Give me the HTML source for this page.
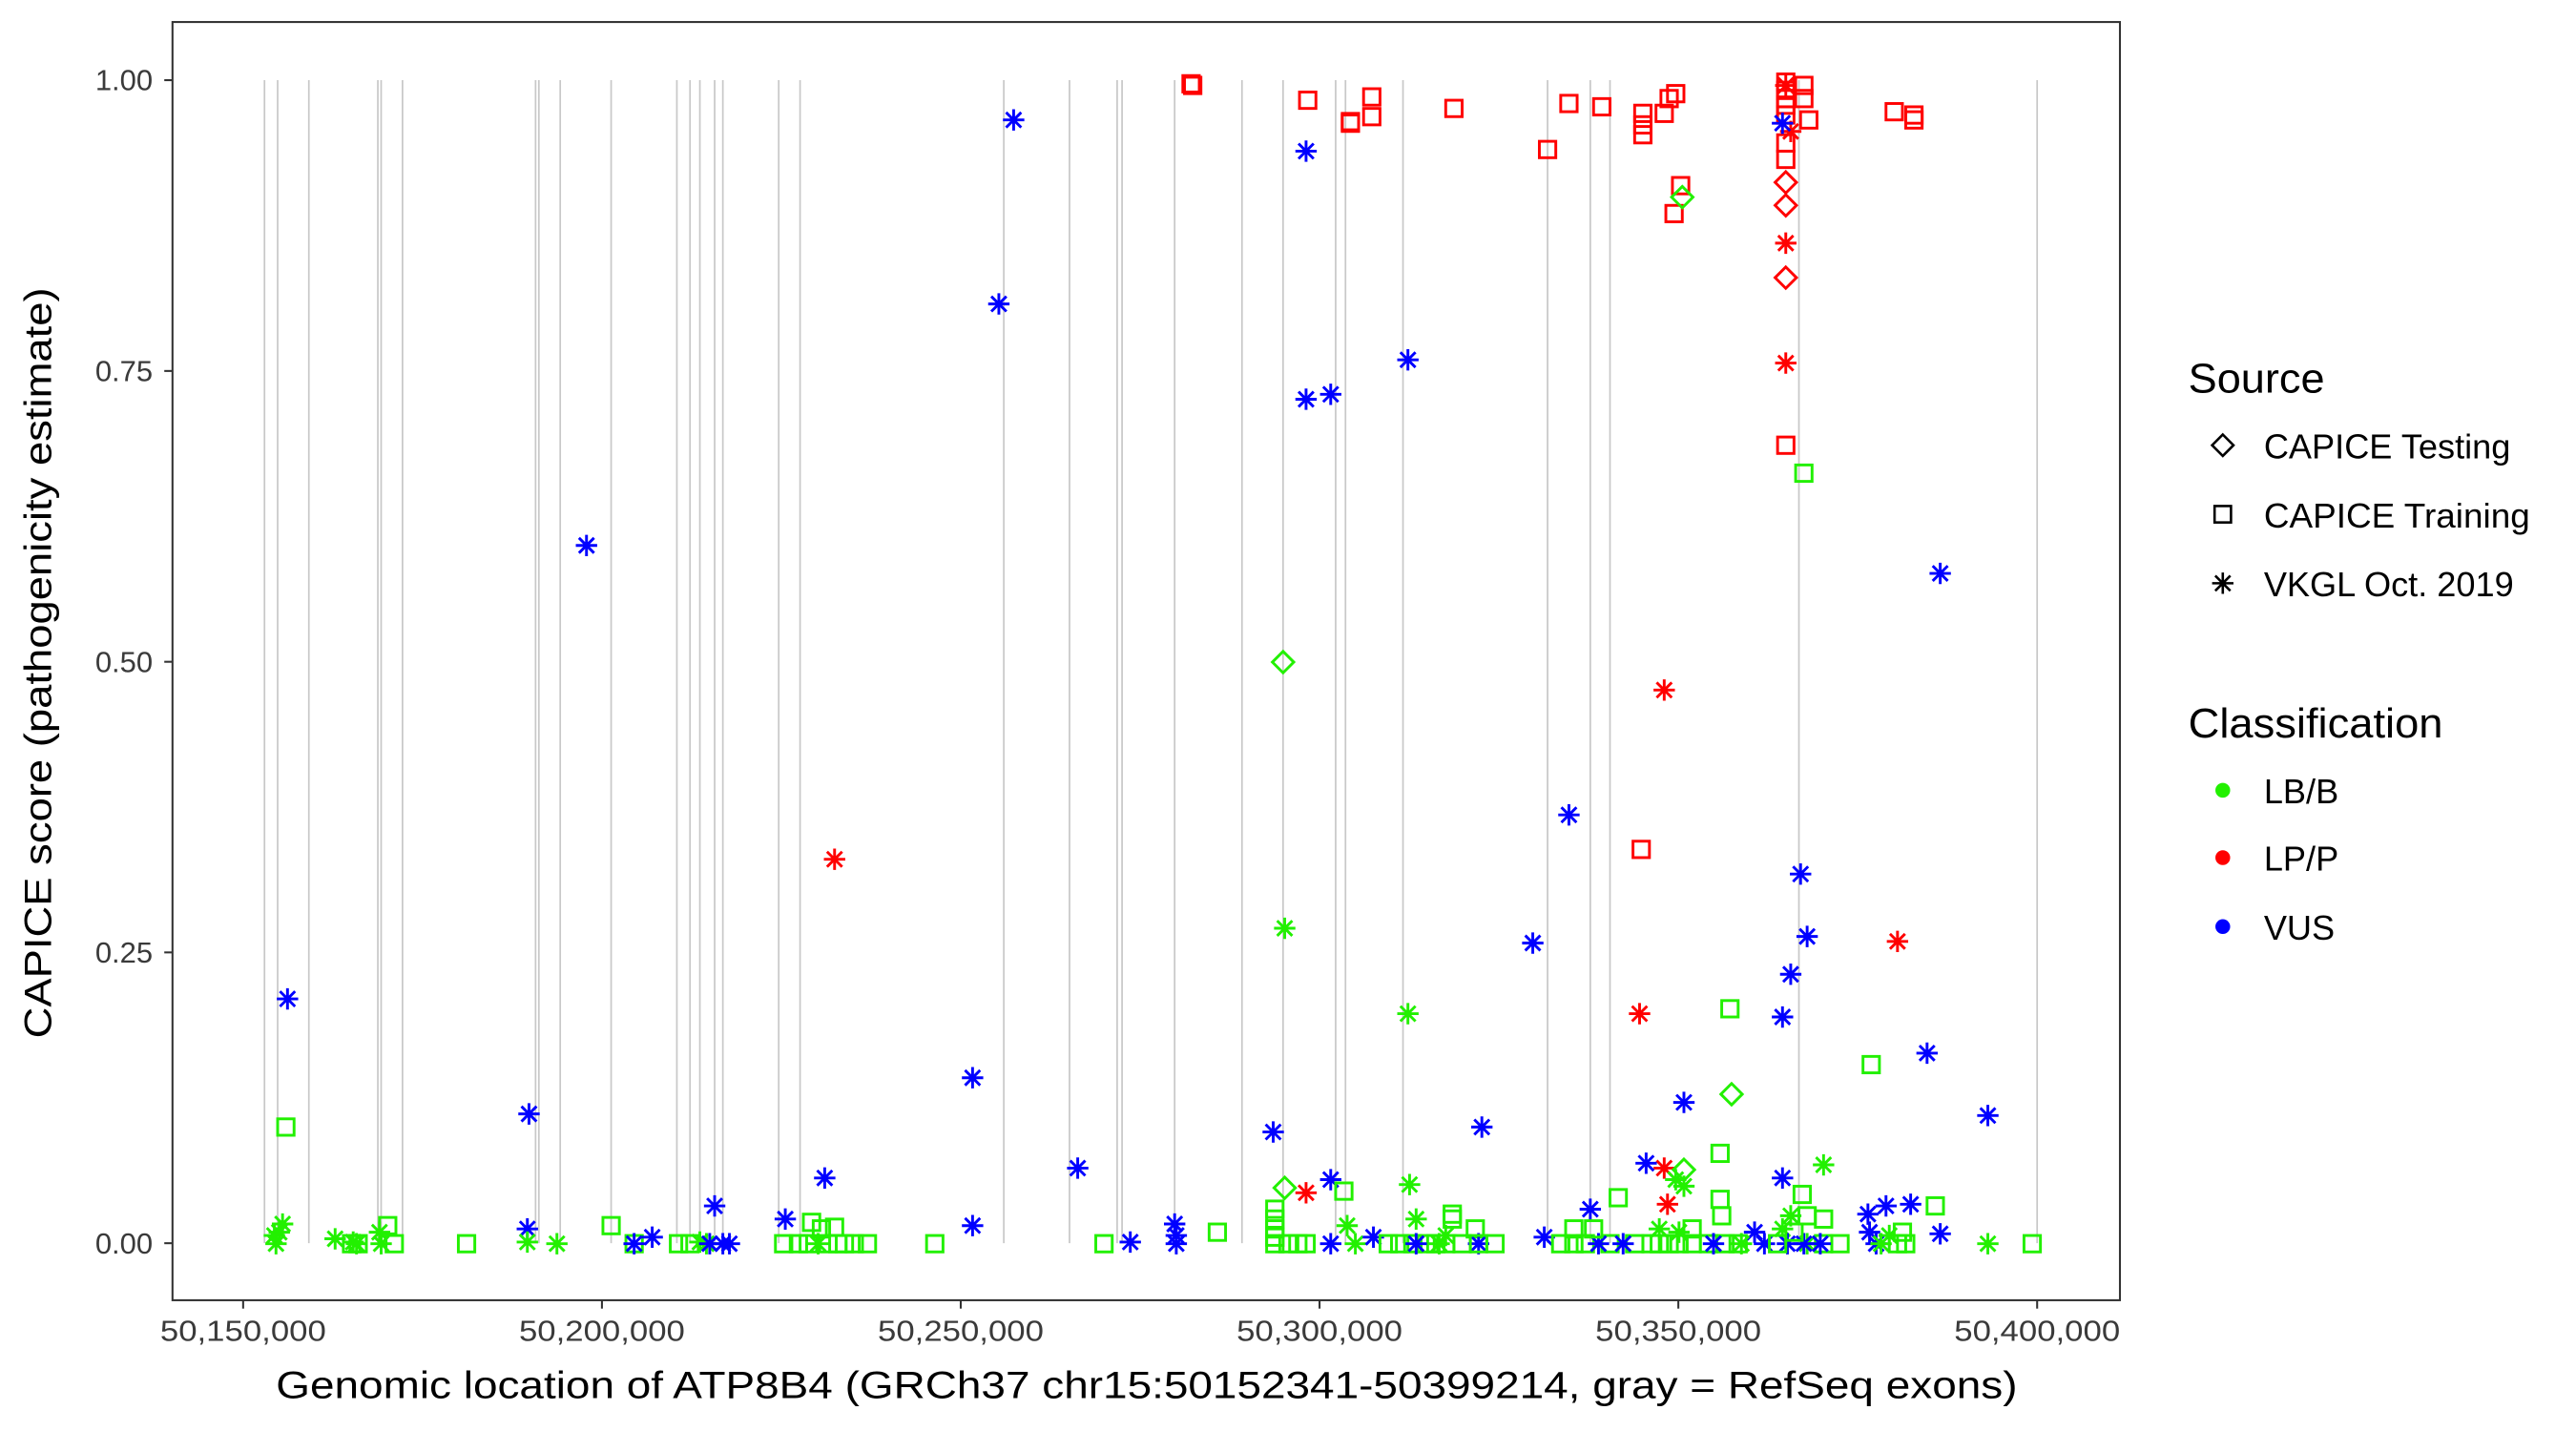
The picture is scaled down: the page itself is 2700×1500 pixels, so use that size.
<!DOCTYPE html>
<html><head><meta charset="utf-8"><style>
html,body{margin:0;padding:0;background:#fff;}
svg{display:block;}
text{font-family:"Liberation Sans",Arial,sans-serif;}
</style></head><body>
<svg id="s" width="2700" height="1500" viewBox="0 0 1568 871" preserveAspectRatio="none" xmlns="http://www.w3.org/2000/svg">
<rect x="0" y="0" width="1568" height="871" fill="#fff"/>
<g id="exons" stroke="#c8c8c8" stroke-width="1"></g>
<g id="pts" fill="none" stroke-width="1.7"></g>
<rect x="105" y="13.4" width="1185.4" height="778" fill="none" stroke="#333" stroke-width="1.2"/>
<g stroke="#333" stroke-width="1.2">
<line x1="100" y1="48.8" x2="105" y2="48.8"/><line x1="100" y1="225.8" x2="105" y2="225.8"/>
<line x1="100" y1="402.8" x2="105" y2="402.8"/><line x1="100" y1="579.7" x2="105" y2="579.7"/>
<line x1="100" y1="756.7" x2="105" y2="756.7"/>
<line x1="148" y1="791.5" x2="148" y2="796.5"/><line x1="366.4" y1="791.5" x2="366.4" y2="796.5"/>
<line x1="584.8" y1="791.5" x2="584.8" y2="796.5"/><line x1="803.2" y1="791.5" x2="803.2" y2="796.5"/>
<line x1="1021.6" y1="791.5" x2="1021.6" y2="796.5"/><line x1="1240" y1="791.5" x2="1240" y2="796.5"/>
</g>
<g fill="#3a3a3a" font-size="18" text-anchor="end">
<text x="93" y="55">1.00</text><text x="93" y="232">0.75</text><text x="93" y="409">0.50</text>
<text x="93" y="586">0.25</text><text x="93" y="763">0.00</text>
</g>
<g fill="#3a3a3a" font-size="18">
<text x="97.5" y="816" textLength="101" lengthAdjust="spacingAndGlyphs">50,150,000</text>
<text x="315.9" y="816" textLength="101" lengthAdjust="spacingAndGlyphs">50,200,000</text>
<text x="534.3" y="816" textLength="101" lengthAdjust="spacingAndGlyphs">50,250,000</text>
<text x="752.7" y="816" textLength="101" lengthAdjust="spacingAndGlyphs">50,300,000</text>
<text x="971.1" y="816" textLength="101" lengthAdjust="spacingAndGlyphs">50,350,000</text>
<text x="1189.5" y="816" textLength="101" lengthAdjust="spacingAndGlyphs">50,400,000</text>
</g>
<text x="168" y="851" font-size="23" fill="#000" textLength="1060" lengthAdjust="spacingAndGlyphs">Genomic location of ATP8B4 (GRCh37 chr15:50152341-50399214, gray = RefSeq exons)</text>
<text transform="translate(31,632) rotate(-90)" font-size="23" fill="#000" textLength="457" lengthAdjust="spacingAndGlyphs">CAPICE score (pathogenicity estimate)</text>
<g font-size="25.5" fill="#000"><text x="1332" y="239" textLength="83" lengthAdjust="spacingAndGlyphs">Source</text><text x="1332" y="449" textLength="155" lengthAdjust="spacingAndGlyphs">Classification</text></g>
<g font-size="21" fill="#000">
<text x="1378" y="279">CAPICE Testing</text><text x="1378" y="321" textLength="162" lengthAdjust="spacingAndGlyphs">CAPICE Training</text><text x="1378" y="363">VKGL Oct. 2019</text>
<text x="1378" y="489">LB/B</text><text x="1378" y="530">LP/P</text><text x="1378" y="572">VUS</text>
</g>
<g id="leg" fill="none" stroke="#000" stroke-width="1.5"></g>
<circle cx="1353" cy="481" r="4.5" fill="#22f000"/>
<circle cx="1353" cy="522" r="4.5" fill="#ff0000"/>
<circle cx="1353" cy="564" r="4.5" fill="#0000ff"/>
</svg>
<script>
var NS="http://www.w3.org/2000/svg";
var ex=[161,169,188,230,232,245,326,328,341,372,412,420,426,435,440,474,487,611,651,680,683,715,756,781,813,819,854,942,968,980,1095,1240];
var eg=document.getElementById('exons');
ex.forEach(function(x){var l=document.createElementNS(NS,'line');l.setAttribute('x1',x);l.setAttribute('x2',x);l.setAttribute('y1',48.8);l.setAttribute('y2',756.7);eg.appendChild(l);});
function mk(g,x,y,t,c){
 var e;
 if(t=='s'){e=document.createElementNS(NS,'rect');e.setAttribute('x',x-5);e.setAttribute('y',y-5);e.setAttribute('width',10);e.setAttribute('height',10);}
 else if(t=='d'){e=document.createElementNS(NS,'polygon');e.setAttribute('points',(x)+','+(y-6.5)+' '+(x+6.5)+','+y+' '+x+','+(y+6.5)+' '+(x-6.5)+','+y);}
 else {e=document.createElementNS(NS,'path');var r=6.5,q=4.6;e.setAttribute('d','M'+(x-r)+' '+y+'H'+(x+r)+'M'+x+' '+(y-r)+'V'+(y+r)+'M'+(x-q)+' '+(y-q)+'L'+(x+q)+' '+(y+q)+'M'+(x-q)+' '+(y+q)+'L'+(x+q)+' '+(y-q));}
 e.setAttribute('stroke',c);g.appendChild(e);
}
var G='#22f000',R='#ff0000',B='#0000ff';
var P=[
[168,757,'a',G],[170,750,'a',G],[172,745,'a',G],[167,752,'a',G],[174,686,'s',G],[175,608,'a',B],
[204,754,'a',G],[215,756,'a',G],[217,757,'a',G],[214,757,'s',G],[218,757,'s',G],[231,750,'a',G],[232,757,'a',G],[236,746,'s',G],[240,757,'s',G],
[284,757,'s',G],[321,748,'a',B],[321,756,'a',G],[322,678,'a',B],[339,757,'a',G],[357,332,'a',B],
[372,746,'s',G],[386,757,'s',G],[386,757,'a',B],[397,753,'a',B],[413,757,'s',G],[420,757,'s',G],[426,756,'a',G],[430,757,'a',G],[435,734,'a',B],[432,757,'a',B],[440,757,'a',B],[444,757,'a',B],
[478,742,'a',B],[477,757,'s',G],[494,744,'s',G],[500,748,'s',G],[486,757,'s',G],[492,757,'s',G],[498,757,'a',G],[504,757,'s',G],[510,757,'s',G],[514,757,'s',G],[502,717,'a',B],[508,523,'a',R],[508,747,'s',G],[520,757,'s',G],[528,757,'s',G],
[569,757,'s',G],[592,746,'a',B],[592,656,'a',B],[608,185,'a',B],[617,73,'a',B],[656,711,'a',B],[672,757,'s',G],[688,756,'a',B],
[715,745,'a',B],[716,752,'a',B],[716,757,'a',B],[741,750,'s',G],[726,52,'s',R],[725,51,'s',R],
[776,736,'s',G],[776,742,'s',G],[776,748,'s',G],[776,753,'s',G],[776,757,'s',G],[784,757,'s',G],[790,757,'s',G],[795,757,'s',G],[781,403,'d',G],[782,723,'d',G],[782,565,'a',G],[775,689,'a',B],[795,92,'a',B],[796,61,'s',R],[795,726,'a',R],[795,243,'a',B],[810,240,'a',B],[810,718,'a',B],[810,757,'a',B],[818,725,'s',G],[820,746,'a',G],[825,757,'a',G],[822,74,'s',R],[822,75,'s',R],[835,59,'s',R],[835,71,'s',R],[836,753,'a',B],
[845,757,'s',G],[852,757,'s',G],[860,757,'s',G],[868,757,'s',G],[874,757,'s',G],[880,757,'s',G],[890,757,'s',G],[857,617,'a',G],[858,721,'a',G],[862,742,'a',G],[857,219,'a',B],[862,757,'a',B],[885,66,'s',R],[884,739,'s',G],[884,742,'s',G],[898,748,'s',G],[902,686,'a',B],[900,757,'a',B],[900,757,'s',G],[910,757,'s',G],[876,757,'a',G],[880,752,'a',G],
[933,574,'a',B],[942,91,'s',R],[940,753,'a',B],[950,757,'s',G],[958,757,'s',G],[965,757,'s',G],[980,757,'s',G],[995,757,'s',G],[955,63,'s',R],[975,65,'s',R],[955,496,'a',B],[968,736,'a',B],[973,757,'a',B],[988,757,'a',B],[958,748,'s',G],[970,748,'s',G],[985,729,'s',G],
[999,517,'s',R],[1000,82,'s',R],[1000,76,'s',R],[1000,69,'s',R],[1013,69,'s',R],[1016,60,'s',R],[1020,57,'s',R],[1023,113,'s',R],[1019,130,'s',R],[998,617,'a',R],[1013,420,'a',R],[1013,711,'a',R],[1015,733,'a',R],[1002,708,'a',B],[1025,671,'a',B],[1025,712,'d',G],[1024,120,'d',G],[1020,718,'a',G],[1025,722,'a',G],[1022,750,'a',G],
[1005,757,'s',G],[1010,757,'s',G],[1016,757,'s',G],[1022,757,'s',G],[1030,757,'s',G],[1040,757,'s',G],[1050,757,'s',G],[1058,757,'s',G],[1010,748,'a',G],[1030,748,'s',G],[1047,702,'s',G],[1047,730,'s',G],[1053,614,'s',G],[1054,666,'d',G],[1048,740,'s',G],[1043,757,'a',B],[1068,750,'a',B],[1074,757,'a',B],[1060,757,'a',G],
[1087,50,'s',R],[1087,55,'s',R],[1087,60,'s',R],[1087,64,'s',R],[1087,70,'s',R],[1087,87,'s',R],[1087,97,'s',R],[1087,271,'s',R],[1098,52,'s',R],[1098,60,'s',R],[1101,73,'s',R],[1087,111,'d',R],[1087,125,'d',R],[1087,169,'d',R],[1087,52,'a',R],[1087,148,'a',R],[1087,221,'a',R],[1090,80,'a',R],[1085,75,'a',B],[1085,619,'a',B],[1085,717,'a',B],[1090,593,'a',B],[1096,532,'a',B],[1100,570,'a',B],[1098,288,'s',G],[1097,727,'s',G],[1100,740,'s',G],[1085,748,'a',G],[1090,740,'a',G],[1100,757,'a',G],[1098,757,'a',B],[1088,757,'a',B],[1082,757,'s',G],[1092,750,'s',G],
[1153,68,'s',R],[1165,70,'s',R],[1165,73,'s',R],[1155,573,'a',R],[1110,709,'a',G],[1110,742,'s',G],[1110,757,'s',G],[1120,757,'s',G],[1108,757,'a',B],
[1139,648,'s',G],[1178,734,'s',G],[1158,750,'s',G],[1155,757,'s',G],[1137,739,'a',B],[1148,734,'a',B],[1163,733,'a',B],[1138,750,'a',B],[1142,757,'a',B],[1173,641,'a',B],[1181,349,'a',B],[1181,751,'a',B],[1210,679,'a',B],[1145,757,'a',G],[1150,752,'a',G],[1210,757,'a',G],[1237,757,'s',G],[1160,757,'s',G]
];
var pg=document.getElementById('pts');
P.forEach(function(p){mk(pg,p[0],p[1],p[2],p[3]);});
var lg=document.getElementById('leg');
mk(lg,1353,271,'d','#000');mk(lg,1353,313,'s','#000');mk(lg,1353,355,'a','#000');
</script>
</body></html>
